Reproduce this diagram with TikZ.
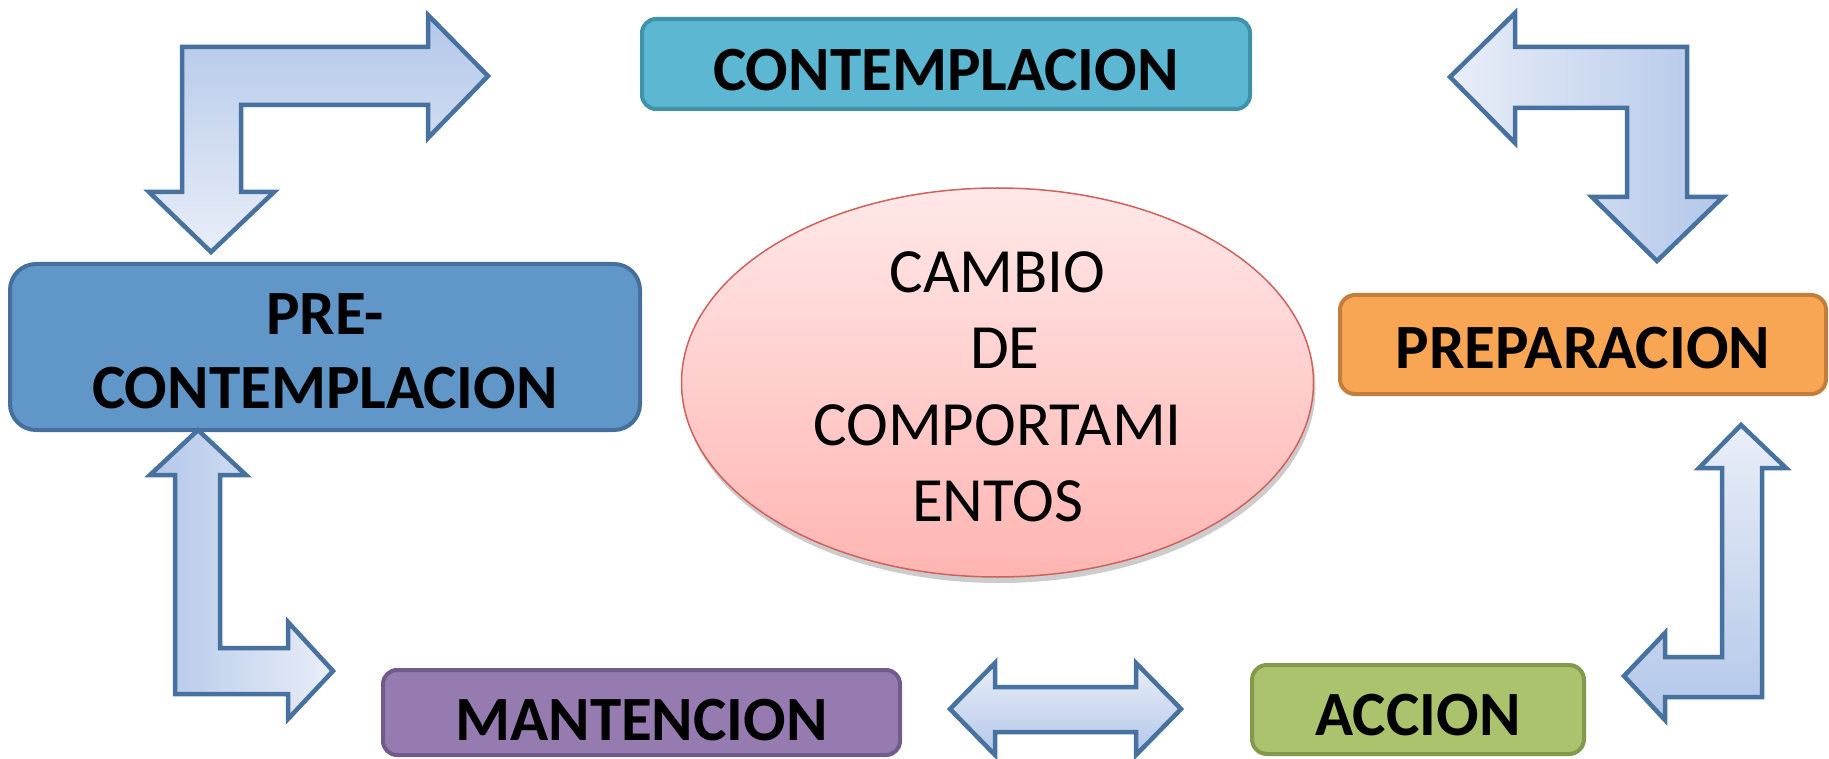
\documentclass[tikz,border=0pt]{standalone}
\usepackage{fontspec}
\setmainfont{Carlito}
\usetikzlibrary{shapes.geometric,shadows}
\definecolor{arrowdark}{HTML}{B3C7E9}
\definecolor{arrowlight}{HTML}{E9EEF8}
\definecolor{arrowline}{HTML}{47729F}
\definecolor{contfill}{HTML}{5CB8D2}
\definecolor{contline}{HTML}{3F93A8}
\definecolor{prefill}{HTML}{6196C9}
\definecolor{preline}{HTML}{45709D}
\definecolor{prepfill}{HTML}{F9A654}
\definecolor{prepline}{HTML}{C27E3D}
\definecolor{mantfill}{HTML}{957BB0}
\definecolor{mantline}{HTML}{705C8A}
\definecolor{accfill}{HTML}{AAC36C}
\definecolor{accline}{HTML}{839A4E}
\definecolor{elltop}{HTML}{FFE8E8}
\definecolor{ellbot}{HTML}{FFB5B2}
\definecolor{ellline}{HTML}{D0625E}
\begin{document}
\begin{tikzpicture}[x=1pt,y=-1pt,
  box/.style={rectangle, line width=4pt, inner sep=0pt, text=black,
    font=\bfseries\fontsize{63}{74}\selectfont},
  oneline/.style={text height=#1, text depth=0pt},
  blockarrow/.style={draw=arrowline, line width=4.5pt, line join=miter},
]
\useasboundingbox (0,0) rectangle (1829,759);
\fill[white] (0,0) rectangle (1829,759);

% central ellipse
\node[ellipse, draw=ellline, line width=1.5pt, top color=elltop, bottom color=ellbot,
  minimum width=632pt, minimum height=389pt, inner sep=0pt,
  drop shadow={shadow xshift=2pt, shadow yshift=-6pt, fill=black, opacity=0.2}]
  (cambio) at (997.5,382.5) {};
\node[font=\fontsize{63}{76.3}\selectfont, align=center, inner sep=0pt, text=black]
  (cambiotxt) at (cambio.center)
  {\rule{0pt}{49.5pt}CAMBIO\\\hspace*{15pt}DE\\COMPORTAMI\\ENTOS};

% stage boxes
\node[box, draw=contline, fill=contfill, rounded corners=14pt,
  minimum width=608pt, minimum height=90pt, oneline=53pt]
  (contemp) at (946,64) {CONTEMPLACION};
\node[box, draw=preline, fill=prefill, rounded corners=26pt,
  minimum width=630pt, minimum height=166pt, align=center]
  (precont) at (325,347) {\rule{0pt}{49pt}PRE-\\CONTEMPLACION};
\node[box, draw=prepline, fill=prepfill, rounded corners=15pt,
  minimum width=486pt, minimum height=99pt, oneline=49pt]
  (prep) at (1583,344.5) {PREPARACION};
\node[box, draw=mantline, fill=mantfill, rounded corners=14pt,
  minimum width=517pt, minimum height=85pt, oneline=55pt]
  (mant) at (641.5,712.5) {MANTENCION};
\node[box, draw=accline, fill=accfill, rounded corners=15pt,
  minimum width=332pt, minimum height=89pt, oneline=51pt]
  (accion) at (1418,709.5) {ACCION};

% block arrows
% top left: pre-contemplacion <-> contemplacion
\path[blockarrow, top color=arrowdark, bottom color=arrowlight]
  (182,47) -- (428,47) -- (428,15) -- (488,76) -- (428,138) -- (428,105)
  -- (241,105) -- (241,192) -- (274,192) -- (211,252) -- (149,192)
  -- (182,192) -- cycle;
% top right: contemplacion <-> preparacion
\path[blockarrow, left color=arrowlight, right color=arrowdark]
  (1687,47) -- (1515,47) -- (1515,13) -- (1450,77) -- (1515,143) -- (1515,108)
  -- (1627,108) -- (1627,197) -- (1592,197) -- (1657,261) -- (1723,197)
  -- (1687,197) -- cycle;
% bottom left: pre-contemplacion <-> mantencion
\path[blockarrow, left color=arrowdark, right color=arrowlight]
  (175,694) -- (288,694) -- (288,719) -- (333,671) -- (288,622) -- (288,648)
  -- (220,648) -- (220,475) -- (246,475) -- (198,430) -- (150,475)
  -- (175,475) -- cycle;
% bottom right: accion <-> preparacion
\path[blockarrow, top color=arrowlight, bottom color=arrowdark]
  (1762,697) -- (1665,697) -- (1665,720) -- (1624,676) -- (1665,633) -- (1665,657)
  -- (1722,657) -- (1722,468) -- (1699,468) -- (1741,425) -- (1786,468)
  -- (1762,468) -- cycle;
% bottom middle: mantencion <-> accion
\path[blockarrow, top color=arrowlight, bottom color=arrowdark]
  (950,709) -- (995,663) -- (995,687) -- (1136,687) -- (1136,663) -- (1181,709)
  -- (1136,755) -- (1136,732) -- (995,732) -- (995,755) -- cycle;
\end{tikzpicture}
\end{document}
